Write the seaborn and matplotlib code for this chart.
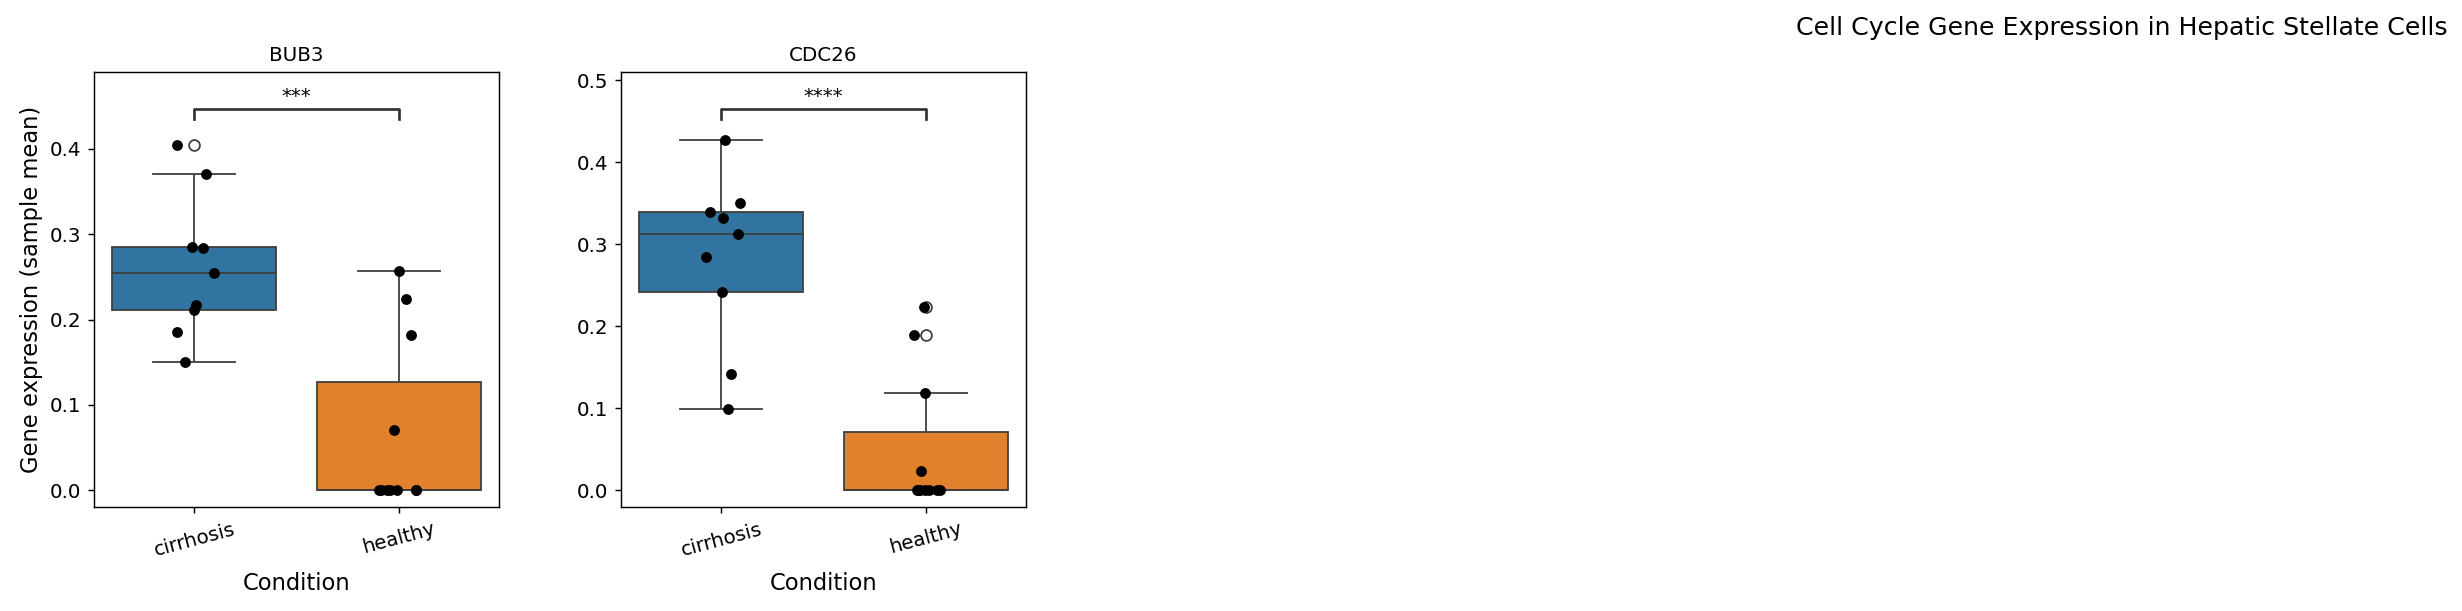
import numpy as np
import pandas as pd
import matplotlib
matplotlib.use("Agg")
import matplotlib.pyplot as plt
import matplotlib.transforms as mtransforms
import seaborn as sns

# ---- data ----
genes = ["BUB3", "CDC26"]
conditions = ["cirrhosis", "healthy"]
bub3_cirrhosis = [0.404, 0.371, 0.285, 0.284, 0.254, 0.217, 0.211, 0.185, 0.150]
bub3_healthy = [0.257, 0.224, 0.182, 0.071, 0.0, 0.0, 0.0, 0.0, 0.0, 0.0, 0.0]
cdc26_cirrhosis = [0.427, 0.350, 0.339, 0.332, 0.313, 0.284, 0.242, 0.142, 0.0995]
cdc26_healthy = [0.224, 0.189, 0.119, 0.024, 0.0, 0.0, 0.0, 0.0, 0.0, 0.0, 0.0]
significance = ["***", "****"]
ylims = [(-0.0195, 0.490), (-0.0203, 0.510)]
title = "Cell Cycle Gene Expression in Hepatic Stellate Cells"

values = {"BUB3": (bub3_cirrhosis, bub3_healthy),
          "CDC26": (cdc26_cirrhosis, cdc26_healthy)}

rows = []
for g in genes:
    for cond, vals in zip(conditions, values[g]):
        for v in vals:
            rows.append({"Gene": g, "Condition": cond, "Expression": v})
df = pd.DataFrame(rows)

DPI = 130
W, H = 2462, 611
fig = plt.figure(figsize=(W / DPI, H / DPI), dpi=DPI)

ax_px = [(94, 499), (621, 1026)]
top_px, bot_px = 72, 507
axes = []
for (l, r) in ax_px:
    axes.append(fig.add_axes([l / W, (H - bot_px) / H, (r - l) / W, (bot_px - top_px) / H]))

np.random.seed(7)
for i, (ax, g) in enumerate(zip(axes, genes)):
    sub = df[df["Gene"] == g]
    sns.boxplot(data=sub, x="Condition", y="Expression", hue="Condition",
                order=conditions, hue_order=conditions, legend=False, ax=ax,
                flierprops={"markersize": 6})
    sns.stripplot(data=sub, x="Condition", y="Expression", order=conditions,
                  color="black", size=6, jitter=0.1, ax=ax)
    ax.set_ylim(*ylims[i])
    ax.set_title(g, fontsize=11)
    ax.set_xlabel("Condition", fontsize=12.5, labelpad=7)
    ax.set_ylabel("Gene expression (sample mean)" if i == 0 else "", fontsize=12.5)
    ax.tick_params(axis="both", labelsize=11)
    for lab in ax.get_xticklabels():
        lab.set_rotation(15)
        lab.set_ha("center")
    # significance bracket
    trans = mtransforms.blended_transform_factory(ax.transData, ax.transAxes)
    ax.plot([0, 0, 1, 1], [0.892, 0.915, 0.915, 0.892], color="#333333",
            lw=1.5, transform=trans, clip_on=False)
    ax.text(0.5, 0.922, significance[i], ha="center", va="bottom",
            fontsize=11, transform=trans)

fig.suptitle(title, x=0.862, y=0.954, fontsize=14, va="center")
fig.savefig("out.png", dpi=DPI)
